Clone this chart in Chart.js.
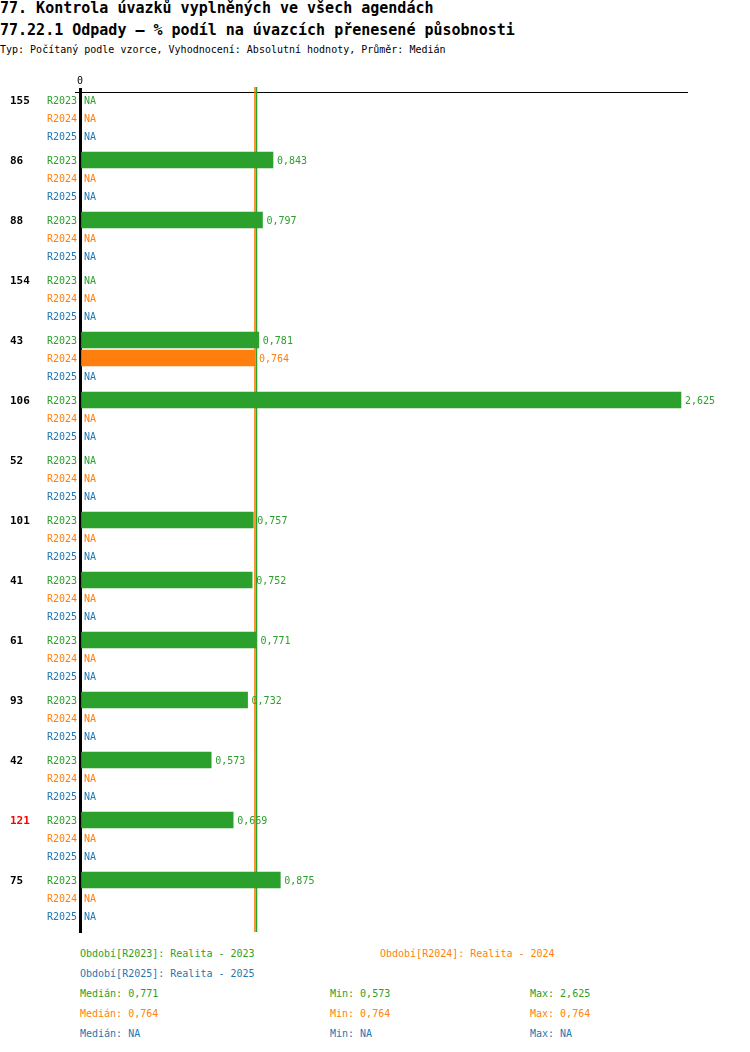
<!DOCTYPE html>
<html><head><meta charset="utf-8">
<script src="https://cdn.jsdelivr.net/npm/chart.js@4"></script>
<style>
body{margin:0;background:#fff;width:750px;height:1052px;position:relative;overflow:hidden;font-family:"DejaVu Sans Mono",monospace;}
.t{position:absolute;white-space:pre;}
#wrap{position:absolute;left:0;top:0;width:750px;height:940px}
.b{font-size:10px;line-height:20px;height:20px}
</style></head><body>
<div class="t" style="left:0;top:-1px;font-size:15px;font-weight:bold;line-height:18px">77. Kontrola úvazků vyplněných ve všech agendách</div>
<div class="t" style="left:0;top:21px;font-size:15px;font-weight:bold;line-height:18px">77.22.1 Odpady – % podíl na úvazcích přenesené působnosti</div>
<div class="t" style="left:0;top:43px;font-size:10px;line-height:14px">Typ: Počítaný podle vzorce, Vyhodnocení: Absolutní hodnoty, Průměr: Medián</div>
<div id="wrap"><canvas id="c"></canvas></div>
<div id="legend"></div>
<script>
// ---- data ----
const groups = ['155','86','88','154','43','106','52','101','41','61','93','42','121','75'];
const highlightedGroups = ['121'];
const seriesNames = ['R2023','R2024','R2025'];
const seriesTitles = ['Realita - 2023','Realita - 2024','Realita - 2025'];
const r2023 = [null,0.843,0.797,null,0.781,2.625,null,0.757,0.752,0.771,0.732,0.573,0.669,0.875];
const r2024 = [null,null,null,null,0.764,null,null,null,null,null,null,null,null,null];
const r2025 = [null,null,null,null,null,null,null,null,null,null,null,null,null,null];
const medians = [0.771,0.764,null];
const mins = [0.573,0.764,null];
const maxs = [2.625,0.764,null];
const xTicks = [0];
const xMax = 2.647;

// ---- styles ----
const colors = ['#2ca02c','#ff7f0e','#1f77b4'];
const ROW = 18, GROUP = 60;
const pos = (g, r) => g * GROUP + r * ROW;
const fmt = v => v === null ? 'NA' : v.toFixed(3).replace('.', ',');

const series = [r2023, r2024, r2025];
const datasets = series.map((arr, si) => ({
  label: seriesNames[si],
  data: arr.map((v, g) => ({x: v, y: pos(g, si)})),
  backgroundColor: colors[si],
  grouped: false,
  barPercentage: 1,
  categoryPercentage: 1,
  maxBarThickness: 16,
  borderWidth: 0
}));

const labelPlugin = {
  id: 'labels',
  beforeDatasetsDraw(chart) {
    const {ctx, chartArea, scales: {x}} = chart;
    ctx.save();
    [1, 0].forEach(si => {
      if (medians[si] === null) return;
      const px = x.getPixelForValue(medians[si]);
      ctx.strokeStyle = colors[si];
      ctx.lineWidth = 1.5;
      ctx.beginPath();
      ctx.moveTo(px, chartArea.top - 5);
      ctx.lineTo(px, chartArea.bottom);
      ctx.stroke();
    });
    ctx.restore();
  },
  afterDraw(chart) {
    const {ctx, scales: {x, y}} = chart;
    ctx.save();
    ctx.textBaseline = 'middle';
    groups.forEach((gname, g) => {
      const gy = y.getPixelForValue(pos(g, 0)) + 1;
      ctx.font = 'bold 11px "DejaVu Sans Mono"';
      ctx.fillStyle = highlightedGroups.includes(gname) ? '#ff0000' : '#000000';
      ctx.textAlign = 'left';
      ctx.fillText(gname, 10, gy);
      ctx.font = '10px "DejaVu Sans Mono"';
      series.forEach((arr, si) => {
        const ry = y.getPixelForValue(pos(g, si)) + 1;
        ctx.fillStyle = colors[si];
        ctx.textAlign = 'left';
        ctx.fillText(seriesNames[si], 47, ry);
        const v = arr[g];
        if (v === null) {
          ctx.fillText('NA', 84, ry);
        } else {
          ctx.fillText(fmt(v), x.getPixelForValue(v) + 4, ry);
        }
      });
    });
    ctx.strokeStyle = '#000';
    ctx.lineWidth = 1;
    ctx.beginPath();
    ctx.moveTo(75, chart.chartArea.top + 0.5);
    ctx.lineTo(chart.chartArea.left, chart.chartArea.top + 0.5);
    ctx.stroke();
    ctx.restore();
  }
};

new Chart(document.getElementById('c'), {
  type: 'bar',
  data: {datasets},
  options: {
    indexAxis: 'y',
    responsive: true,
    maintainAspectRatio: false,
    animation: false,
    devicePixelRatio: 1,
    layout: {padding: {top: 70, left: 0, right: 64, bottom: 8}},
    plugins: {legend: {display: false}, tooltip: {enabled: false}},
    scales: {
      x: {
        type: 'linear', position: 'top', min: 0, max: xMax,
        afterBuildTicks: s => { s.ticks = xTicks.map(v => ({value: v})); },
        afterFit: s => { s.height = 22; },
        ticks: {color: '#000', font: {family: 'DejaVu Sans Mono', size: 10}, padding: 1, callback: v => String(v)},
        grid: {display: true, drawOnChartArea: false, drawTicks: true, tickLength: 4, color: '#000', lineWidth: 3},
        border: {display: true, color: '#000', width: 1}
      },
      y: {
        type: 'linear', reverse: true, min: -8, max: pos(groups.length - 1, 2) + 16,
        offset: false,
        z: 1,
        afterFit: s => { s.width = 80; },
        ticks: {display: false},
        grid: {display: false, offset: false},
        border: {display: true, color: '#000', width: 3}
      }
    }
  },
  plugins: [labelPlugin]
});

// ---- bottom legend / stats ----
const lg = document.getElementById('legend');
function addText(txt, left, top, color) {
  const d = document.createElement('div');
  d.className = 't b';
  d.style.left = left + 'px';
  d.style.top = top + 'px';
  d.style.color = color;
  d.textContent = txt;
  lg.appendChild(d);
}
addText('Období[' + seriesNames[0] + ']: ' + seriesTitles[0], 80, 944, colors[0]);
addText('Období[' + seriesNames[1] + ']: ' + seriesTitles[1], 380, 944, colors[1]);
addText('Období[' + seriesNames[2] + ']: ' + seriesTitles[2], 80, 964, colors[2]);
seriesNames.forEach((n, si) => {
  const top = 984 + si * 20;
  addText('Medián: ' + fmt(medians[si]), 80, top, colors[si]);
  addText('Min: ' + fmt(mins[si]), 330, top, colors[si]);
  addText('Max: ' + fmt(maxs[si]), 530, top, colors[si]);
});
</script>
</body></html>
